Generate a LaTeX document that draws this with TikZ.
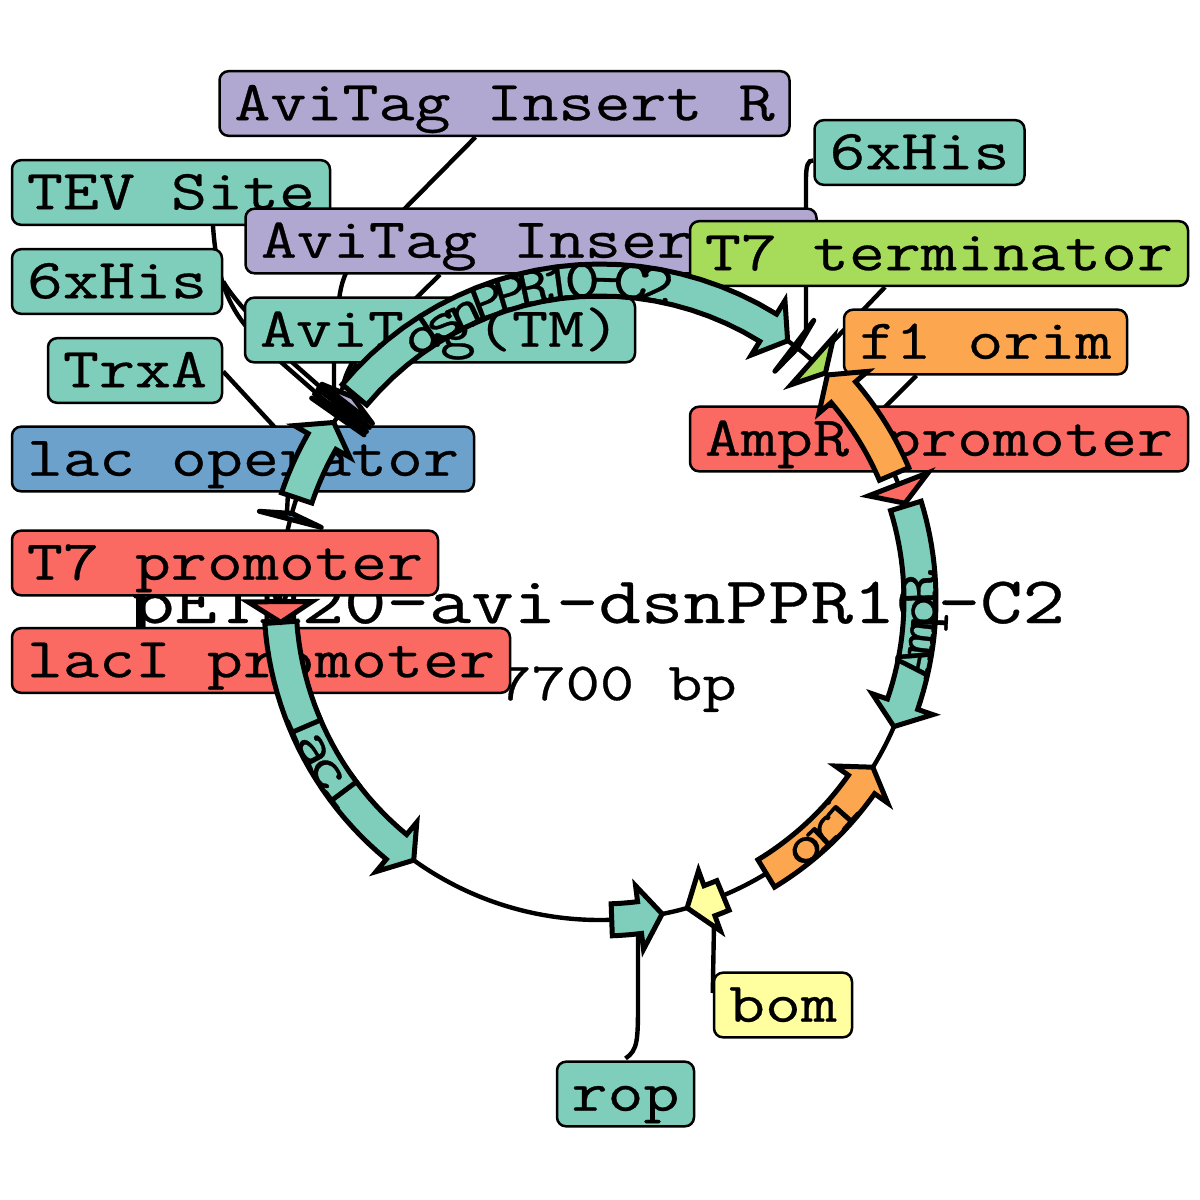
\documentclass[tikz,border=0pt]{standalone}
\usepackage{fontspec}
\setmonofont[FakeStretch=1.24,FakeBold=0.5]{Latin Modern Mono}
\usetikzlibrary{calc}
\definecolor{cteal}{HTML}{7FCDBB}
\definecolor{cpurple}{HTML}{B0A8D0}
\definecolor{cblue}{HTML}{6BA1CB}
\definecolor{cred}{HTML}{FB6A62}
\definecolor{corange}{HTML}{FDA650}
\definecolor{cgreen}{HTML}{A6DC5A}
\definecolor{cyellow}{HTML}{FFFFA0}
\pgfdeclarelayer{bg}
\pgfdeclarelayer{fg}
\pgfsetlayers{bg,main,fg}
\newcommand{\lblfont}{\ttfamily\fontsize{28.2}{30}\selectfont}
\newcommand{\arcfont}{\ttfamily\fontsize{28}{30}\selectfont}
\tikzset{
  lbl/.style={draw=black,line width=1.25pt,rounded corners=4.5pt,inner sep=0pt,anchor=center,
    text height=24.5pt,text depth=7.8pt,font=\lblfont},
  conn/.style={draw=black,line width=2.2pt},
  feat/.style={draw=black,line width=2.5pt,miter limit=12,line join=miter},
  thin/.style={draw=black,line width=2.5pt,line join=round},
}
% body start, head base, tip, colour
\newcommand{\featarrow}[4]{%
  \draw[feat,fill=#4]
    plot[domain=#1:#2,samples=24] ({600+336*cos(\x)},{600-336*sin(\x)})
    -- ({600+352*cos(#2)},{600-352*sin(#2)})
    -- ({600+320*cos(#3)},{600-320*sin(#3)})
    -- ({600+288*cos(#2)},{600-288*sin(#2)})
    -- ({600+304*cos(#2)},{600-304*sin(#2)})
    -- plot[domain=#2:#1,samples=24] ({600+304*cos(\x)},{600-304*sin(\x)})
    -- cycle;}
% head-only feature: base, tip, colour, style
\newcommand{\featkite}[4]{%
  \draw[#4,fill=#3]
    ({600+352*cos(#1)},{600-352*sin(#1)})
    -- ({600+320*cos(#2)},{600-320*sin(#2)})
    -- ({600+288*cos(#1)},{600-288*sin(#1)})
    -- cycle;}
% chars, count, centre angle, radius, step (signed), extra rotation
\newcommand{\arclabel}[7]{%
  \foreach \c [count=\i] in {#1} {
    \pgfmathsetmacro{\ang}{#3+#5*(\i-(#2+1)/2)}
    \node[name=#7\i,anchor=base,inner sep=0pt,font=\arcfont,rotate=\ang+#6]
      at ({600+#4*cos(\ang)},{600-#4*sin(\ang)}) {\c};
  }}
\begin{document}
\begin{tikzpicture}[x=0.5pt,y=-0.5pt]
\useasboundingbox (0,0) rectangle (1200,1200);
\begin{pgfonlayer}{bg}
\fill[white] (0,0) rectangle (1200,1200);
\draw[conn] (600,600) circle [radius=320];
\end{pgfonlayer}

% title
\node[name=title,inner sep=0pt,anchor=base,font=\ttfamily\fontsize{33.2}{36}\selectfont] at (598.5,623) {pETM20-avi-dsnPPR10-C2};
\node[name=size,inner sep=0pt,anchor=base,font=\ttfamily\fontsize{26.8}{30}\selectfont] at (617,700) {7700 bp};

% labels
\node[lbl,fill=cpurple,minimum width=285pt,name=avR] at (504.5,103.5) {AviTag Insert R};
\node[lbl,fill=cteal,minimum width=105pt,name=hisR] at (919.5,152.5) {6xHis};
\node[lbl,fill=cteal,minimum width=159pt,name=tev] at (171,192.5) {TEV Site};
\node[lbl,fill=cpurple,minimum width=285.5pt,name=avF] at (531,241) {AviTag Insert F};
\node[lbl,fill=cgreen,minimum width=249pt,name=t7t] at (939,253.5) {T7 terminator};
\node[lbl,fill=cteal,minimum width=105pt,name=hisL] at (117,281.5) {6xHis};
\node[lbl,fill=cteal,minimum width=195pt,name=avTM] at (440,330) {AviTag(TM)};
\node[lbl,fill=corange,minimum width=141.5pt,name=ori] at (985.5,342) {f1 orim};
\node[lbl,fill=cteal,minimum width=87pt,name=trx] at (135,370.5) {TrxA};
\node[lbl,fill=cblue,minimum width=231pt,name=lacO] at (243,459) {lac operator};
\node[lbl,fill=cred,minimum width=249pt,name=ampP] at (939,439) {AmpR promoter};
\node[lbl,fill=cred,minimum width=213pt,name=t7p] at (225,563) {T7 promoter};
\node[lbl,fill=cred,minimum width=249pt,name=lacP] at (261,660.5) {lacI promoter};
\node[lbl,fill=cyellow,minimum width=69pt,name=bom] at (783,1005) {bom};
\node[lbl,fill=cteal,minimum width=68.5pt,name=rop] at (625.5,1094) {rop};

% leader end points on the ring
\coordinate (eTev) at (330,405);
\coordinate (eHisL) at (335,400);
\coordinate (eTrx) at (305,460);
\coordinate (eAvR) at (334,395);
\coordinate (eAvF) at (342,390);
\coordinate (eTM) at (343,388);
\coordinate (eLacO) at (287,512);
\coordinate (eLacP) at (138,585);
\coordinate (eHisR) at (806,335);
\coordinate (eT7t) at (820,355);
\coordinate (eOri) at (880,412);
\coordinate (eRop) at (638,930);
\coordinate (eBom) at (714,925);

\begin{pgfonlayer}{bg}
\draw[conn] ($(avR.south)+(-29,0)$) -- (352,262) .. controls (344,275) and (340,285) .. (338,310) -- (334,362) -- (eAvR);
\draw[conn] ($(avF.south)+(-91,0)$) -- (357,356) .. controls (350,365) and (345,375) .. (eAvF);
\draw[conn] ($(avTM.south)+(-83,0)$) .. controls (352,372) and (347,378) .. (eTM);
\draw[conn] ($(tev.south)+(42,0)$) .. controls (216,270) and (225,300) .. (245,325) -- (282,363) -- (eTev);
\draw[conn] ($(hisL.east)+(0,0)$) .. controls (228,290) and (236,300) .. (245,310) -- (293,363) -- (eHisL);
\draw[conn] ($(trx.east)+(0,1)$) -- (eTrx);
\draw[conn] ($(lacO.south)+(45,0)$) -- (eLacO);
\draw[conn] ($(lacP.north)+(-123,0)$) -- (eLacP);
\draw[conn] ($(hisR.west)+(0,8)$) .. controls (808,160) and (806,165) .. (806,180) -- (eHisR);
\draw[conn] ($(t7t.south)+(-54,0)$) -- (eT7t);
\draw[conn] ($(ori.south)+(-69,0)$) -- (eOri);
\draw[conn] ($(rop.north)+(0,-2)$) .. controls (638,1050) and (638,1040) .. (638,1000) -- (eRop);
\draw[conn] ($(bom.west)+(0,-12)$) -- (eBom);
\end{pgfonlayer}

\begin{pgfonlayer}{fg}
\featkite{165.4}{164.3}{cblue}{thin}
\featarrow{161.4}{150.3}{146.3}{cteal}
\featkite{145.0}{144.7}{cteal}{thin}
\featkite{144.2}{143.9}{cteal}{thin}
\featkite{143.2}{142.9}{cteal}{thin}
\featarrow{140.1}{58.3}{54.1}{cteal}
\featkite{142.2}{140.6}{cpurple}{thin}
\featkite{52.6}{51.9}{cteal}{thin}
\featkite{48.4}{45.2}{cgreen}{feat}
\featarrow{23.2}{40.5}{44.7}{corange}
\featkite{21.2}{17.6}{cred}{feat}
\featarrow{17.1}{-19.0}{-23.3}{cteal}
\featarrow{-58.7}{-35.2}{-31.5}{corange}
\featarrow{292.6}{290.0}{285.8}{cyellow}
\featarrow{272.1}{277.1}{281.2}{cteal}
\featarrow{184}{230.5}{234.4}{cteal}
\featkite{180.3}{184}{cred}{feat}
\arclabel{d,s,n,P,P,R,1,0,-,C,2}{11}{102}{303}{-4.4}{-90}{dsn}
\arclabel{l,a,c,I}{4}{210}{336}{4.5}{90}{lacI}
\arclabel{A,m,p,R}{4}{-4.5}{336}{4.4}{90}{amp}
\arclabel{o,r,i}{3}{-46}{336}{4.5}{90}{orilbl}
\end{pgfonlayer}
\end{tikzpicture}
\end{document}
